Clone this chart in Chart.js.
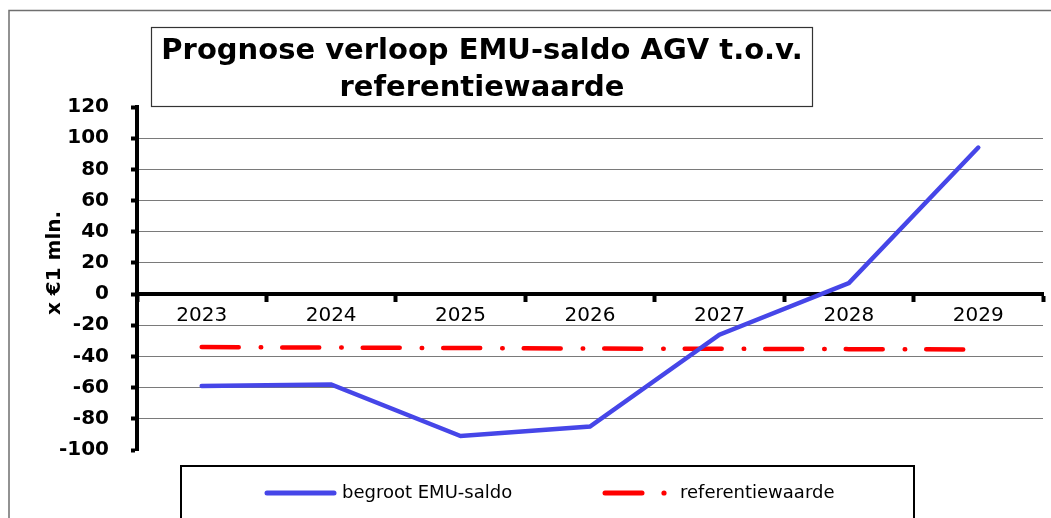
<!DOCTYPE html>
<html>
<head>
<meta charset="utf-8">
<script src="https://cdn.jsdelivr.net/npm/chart.js@4"></script>
<style>
  html, body { margin: 0; padding: 0; background: #fff; }
  #wrap { width: 1051px; height: 518px; }
</style>
</head>
<body>
<div id="wrap"><canvas id="emuChart" width="1051" height="518"></canvas></div>
<script>
// data
const years = ['2023', '2024', '2025', '2026', '2027', '2028', '2029'];
const begrootEmuSaldo = [-59, -58, -91, -85, -26, 7, 94];
const referentiewaarde = [-34, -34.3, -34.6, -34.9, -35.1, -35.3, -35.5];
const yTicks = { min: -100, max: 120, step: 20 };
const titleLines = ['Prognose verloop EMU-saldo AGV t.o.v.', 'referentiewaarde'];
const yTitle = 'x €1 mln.';

const FONT = '"DejaVu Sans", Verdana, sans-serif';
const BLUE = '#4646e8';
const RED = '#ff0000';

// boxes, titles and legend drawn by hand like the original
const framePlugin = {
  id: 'frame',
  afterDraw(chart) {
    const c = chart.ctx;
    c.save();
    // outer border
    c.strokeStyle = '#6f6f6f';
    c.lineWidth = 1.5;
    c.strokeRect(9, 10.5, 1060, 600);

    // title box
    c.fillStyle = '#fff';
    c.fillRect(151, 27, 661, 79);
    c.strokeStyle = '#333';
    c.lineWidth = 1.2;
    c.strokeRect(151.5, 27.5, 661, 79);
    c.fillStyle = '#000';
    c.font = 'bold 29px ' + FONT;
    c.textAlign = 'center';
    c.textBaseline = 'middle';
    c.fillText(titleLines[0], 482, 51);
    c.fillText(titleLines[1], 482, 88);

    // y axis title
    c.save();
    c.translate(55, 263);
    c.rotate(-Math.PI / 2);
    c.font = 'bold 20px ' + FONT;
    c.fillText(yTitle, 0, 0);
    c.restore();

    // legend box
    c.fillStyle = '#fff';
    c.fillRect(180, 465, 734, 80);
    c.strokeStyle = '#000';
    c.lineWidth = 2;
    c.strokeRect(181, 466, 733, 100);

    const ds = chart.data.datasets;
    c.lineCap = 'round';
    c.lineWidth = 5;
    c.strokeStyle = ds[0].borderColor;
    c.beginPath();
    c.moveTo(267, 493);
    c.lineTo(334, 493);
    c.stroke();

    c.strokeStyle = ds[1].borderColor;
    c.beginPath();
    c.moveTo(605, 493);
    c.lineTo(642, 493);
    c.stroke();
    c.fillStyle = ds[1].borderColor;
    c.beginPath();
    c.arc(664, 493, 2.6, 0, Math.PI * 2);
    c.fill();

    c.fillStyle = '#000';
    c.font = '18px ' + FONT;
    c.textAlign = 'left';
    c.fillText(ds[0].label, 342, 493);
    c.fillText(ds[1].label, 680, 493);
    c.restore();
  }
};

const ctx = document.getElementById('emuChart').getContext('2d');
new Chart(ctx, {
  type: 'line',
  data: {
    labels: years,
    datasets: [
      {
        label: 'begroot EMU-saldo',
        data: begrootEmuSaldo,
        borderColor: BLUE,
        borderWidth: 4.5,
        pointRadius: 0,
        tension: 0,
        borderCapStyle: 'round',
        borderJoinStyle: 'miter'
      },
      {
        label: 'referentiewaarde',
        data: referentiewaarde,
        borderColor: RED,
        borderWidth: 4.5,
        pointRadius: 0,
        tension: 0,
        borderCapStyle: 'round',
        borderDash: [37, 22, 0.5, 21]
      }
    ]
  },
  options: {
    responsive: false,
    animation: false,
    layout: { padding: { top: 107, bottom: 68, right: 8, left: 0 } },
    plugins: {
      legend: { display: false },
      title: { display: false },
      tooltip: { enabled: false }
    },
    scales: {
      x: {
        position: { y: 0 },
        offset: true,
        grid: {
          drawOnChartArea: false,
          offset: true,
          tickLength: 6,
          tickWidth: 4,
          tickColor: '#000'
        },
        border: { color: '#000', width: 4 },
        ticks: {
          color: '#000',
          padding: 4,
          maxRotation: 0,
          font: { family: FONT, size: 20 }
        }
      },
      y: {
        min: yTicks.min,
        max: yTicks.max,
        afterFit(scale) { scale.width = 137; },
        grid: {
          color: (c) => (c.tick && (c.tick.value === yTicks.min || c.tick.value === yTicks.max)) ? 'rgba(0,0,0,0)' : '#7a7a7a',
          lineWidth: 1,
          tickLength: 6,
          tickWidth: 4,
          tickColor: '#000'
        },
        border: { color: '#000', width: 4 },
        ticks: {
          stepSize: yTicks.step,
          color: '#000',
          padding: 22,
          font: { family: FONT, size: 20, weight: 'bold' }
        }
      }
    }
  },
  plugins: [framePlugin]
});
</script>
</body>
</html>
